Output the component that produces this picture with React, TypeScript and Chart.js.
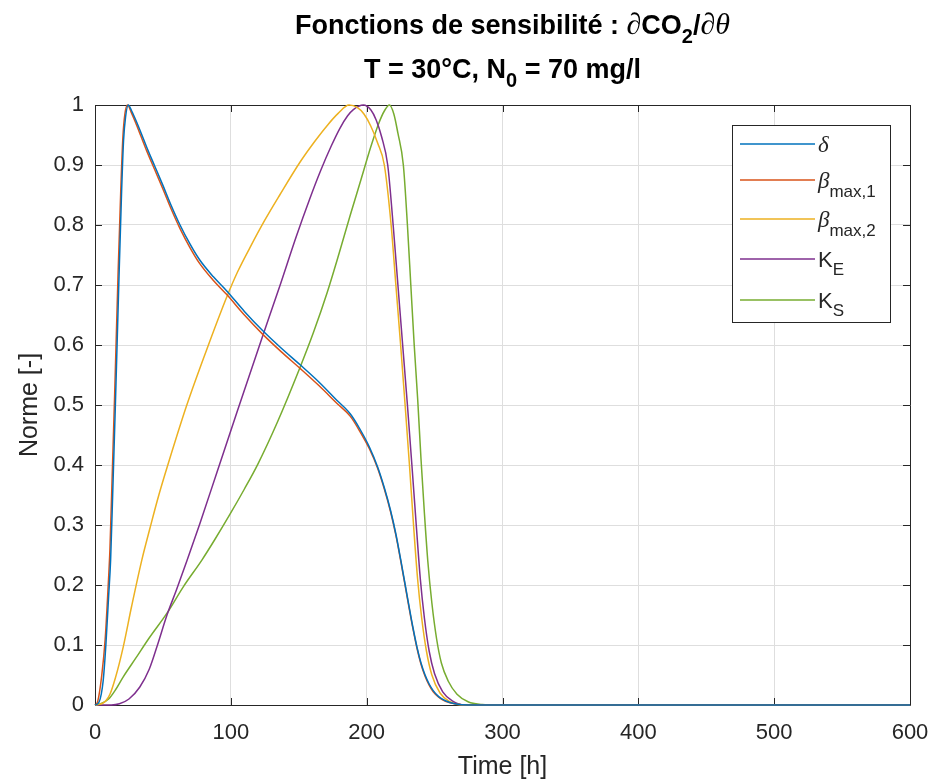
import React, { useEffect, useRef } from "react";
import { Chart, registerables } from "chart.js";

Chart.register(...registerables);

// ---- Data (time [h] / normalized sensitivity) ----
const T_DELTA = [0, 3, 6, 8, 10, 11.5, 13, 15, 17.5, 19.5, 21, 22.5, 24.5, 27, 30, 34, 38, 44, 50, 56, 62.6, 70, 77, 87, 97, 110, 123, 137, 151, 165, 178, 188, 195, 202, 208, 213, 217.5, 221.5, 225, 228, 231, 234, 237, 240, 243, 246, 249, 253, 258, 265, 275, 600];
const V_DELTA = [0, 0.005, 0.04, 0.1, 0.18, 0.242, 0.35, 0.5, 0.7, 0.85, 0.94, 0.98, 1.0, 0.99, 0.975, 0.953, 0.93, 0.898, 0.866, 0.833, 0.8, 0.768, 0.742, 0.714, 0.69, 0.656, 0.625, 0.595, 0.567, 0.538, 0.508, 0.485, 0.46, 0.43, 0.397, 0.362, 0.325, 0.285, 0.243, 0.205, 0.167, 0.13, 0.097, 0.07, 0.05, 0.035, 0.024, 0.014, 0.007, 0.002, 0, 0];

const T_BETA1 = [0, 2, 5, 7.5, 9.5, 11, 12.5, 14.5, 17, 19, 20.5, 22, 24, 27, 30, 34, 38, 44, 50, 56, 62.6, 70, 77, 87, 97, 110, 123, 137, 151, 165, 178, 188, 195, 202, 208, 213, 217.5, 221.5, 225, 228, 231, 234, 237, 240, 243, 246, 249, 253, 258, 265, 275, 600];
const V_BETA1 = [0, 0.006, 0.05, 0.11, 0.19, 0.26, 0.37, 0.52, 0.72, 0.86, 0.945, 0.985, 1.0, 0.986, 0.97, 0.947, 0.924, 0.892, 0.86, 0.827, 0.794, 0.762, 0.736, 0.708, 0.684, 0.65, 0.619, 0.589, 0.561, 0.532, 0.503, 0.481, 0.456, 0.427, 0.395, 0.36, 0.323, 0.283, 0.241, 0.203, 0.165, 0.128, 0.095, 0.068, 0.048, 0.033, 0.022, 0.013, 0.006, 0.002, 0, 0];

const T_BETA2 = [0, 5, 8, 11, 15, 20.8, 27, 34.5, 40.5, 47, 54, 67.6, 83.5, 97, 105, 114, 125, 136, 151, 162, 171, 179, 187, 193, 198, 203, 208, 213, 218, 221.5, 225, 228.3, 231.5, 234.5, 237.5, 240.5, 244, 248, 254, 261, 270, 600];
const V_BETA2 = [0, 0.002, 0.007, 0.018, 0.045, 0.097, 0.165, 0.242, 0.295, 0.35, 0.403, 0.5, 0.6, 0.68, 0.722, 0.762, 0.808, 0.85, 0.905, 0.94, 0.966, 0.986, 1.0, 0.996, 0.985, 0.965, 0.937, 0.9, 0.8, 0.7, 0.6, 0.5, 0.4, 0.3, 0.21, 0.145, 0.09, 0.05, 0.02, 0.006, 0, 0];

const T_KE = [0, 12, 18, 25, 33, 40, 46, 53, 60, 67.6, 77.3, 89.8, 104.5, 123, 136, 148.5, 158, 166, 174, 180.5, 186, 190, 197.6, 203, 207, 211, 215.5, 219.5, 223, 226.5, 230, 233.3, 236.5, 239.5, 242.5, 246, 250, 256, 263, 272, 600];
const V_KE = [0, 0, 0.002, 0.01, 0.03, 0.06, 0.1, 0.15, 0.192, 0.24, 0.303, 0.388, 0.488, 0.612, 0.698, 0.783, 0.843, 0.89, 0.932, 0.962, 0.982, 0.992, 1.0, 0.992, 0.975, 0.947, 0.9, 0.8, 0.7, 0.6, 0.5, 0.4, 0.3, 0.21, 0.145, 0.09, 0.052, 0.022, 0.007, 0, 0];

const T_KS = [0, 5, 10, 15, 20.8, 30, 40, 53, 65, 78.8, 88, 99.4, 110, 120, 134, 151, 161, 171, 180, 188, 196, 203, 209, 213, 216.7, 220, 223, 227, 230, 232.5, 235, 237.6, 240, 242.5, 245, 248, 251.5, 255, 260, 266.5, 275, 285, 295, 600];
const V_KS = [0, 0.003, 0.01, 0.025, 0.047, 0.078, 0.112, 0.153, 0.197, 0.242, 0.275, 0.318, 0.36, 0.402, 0.47, 0.563, 0.622, 0.688, 0.755, 0.817, 0.877, 0.93, 0.97, 0.99, 1.0, 0.985, 0.953, 0.9, 0.8, 0.7, 0.6, 0.508, 0.41, 0.32, 0.24, 0.17, 0.11, 0.07, 0.04, 0.018, 0.005, 0.001, 0, 0];

const X_TICK_LABELS = ["0", "100", "200", "300", "400", "500", "600"];
const Y_TICK_LABELS = ["0", "0.1", "0.2", "0.3", "0.4", "0.5", "0.6", "0.7", "0.8", "0.9", "1"];

const COLORS = ["#0072BD", "#D95319", "#EDB120", "#7E2F8E", "#77AC30"];

const SANS = "'Liberation Sans', Arial, sans-serif";
const SERIF = "'Liberation Serif', 'DejaVu Serif', serif";
const TXT = "#262626";

type Seg = { t: string; f: string; dy?: number };

function drawRich(ctx: CanvasRenderingContext2D, segs: Seg[], x: number, y: number, align: "left" | "center") {
  let w = 0;
  for (const s of segs) {
    ctx.font = s.f;
    w += ctx.measureText(s.t).width;
  }
  let cx = align === "center" ? x - w / 2 : x;
  ctx.textBaseline = "alphabetic";
  ctx.textAlign = "left";
  for (const s of segs) {
    ctx.font = s.f;
    ctx.fillText(s.t, cx, y + (s.dy || 0));
    cx += ctx.measureText(s.t).width;
  }
}

const decorPlugin = {
  id: "decor",
  beforeDatasetsDraw(chart: any) {
    const { ctx, chartArea } = chart;
    const { left, right, top, bottom } = chartArea;
    const xs = chart.scales.x;
    const ys = chart.scales.y;
    ctx.save();
    ctx.strokeStyle = TXT;
    ctx.lineWidth = 1;
    ctx.beginPath();
    ctx.rect(Math.round(left) + 0.5, Math.round(top) + 0.5, Math.round(right - left), Math.round(bottom - top));
    ctx.stroke();
    const tl = 7;
    ctx.beginPath();
    xs.ticks.forEach((t: any) => {
      const px = Math.round(xs.getPixelForValue(t.value)) + 0.5;
      ctx.moveTo(px, bottom);
      ctx.lineTo(px, bottom - tl);
      ctx.moveTo(px, top);
      ctx.lineTo(px, top + tl);
    });
    ys.ticks.forEach((t: any) => {
      const py = Math.round(ys.getPixelForValue(t.value)) + 0.5;
      ctx.moveTo(left, py);
      ctx.lineTo(left + tl, py);
      ctx.moveTo(right, py);
      ctx.lineTo(right - tl, py);
    });
    ctx.stroke();
    ctx.restore();
  },
  afterDraw(chart: any) {
    const { ctx, chartArea } = chart;
    const cxm = (chartArea.left + chartArea.right) / 2;
    const cym = (chartArea.top + chartArea.bottom) / 2;
    ctx.save();
    ctx.fillStyle = "#000";
    const B = `bold 27px ${SANS}`;
    const BS = `bold 20px ${SANS}`;
    const SYM = `30px ${SERIF}`;
    // Title line 1
    drawRich(
      ctx,
      [
        { t: "Fonctions de sensibilité : ", f: B },
        { t: "∂", f: SYM },
        { t: "CO", f: B },
        { t: "2", f: BS, dy: 9 },
        { t: "/", f: B },
        { t: "∂", f: SYM },
        { t: "θ", f: `italic 30px ${SERIF}` },
      ],
      cxm + 10,
      34,
      "center"
    );
    // Title line 2
    drawRich(
      ctx,
      [
        { t: "T = 30°C, N", f: B },
        { t: "0", f: BS, dy: 9 },
        { t: " = 70 mg/l", f: B },
      ],
      cxm,
      78,
      "center"
    );
    // Axis titles
    ctx.fillStyle = TXT;
    ctx.font = `25px ${SANS}`;
    ctx.textAlign = "center";
    ctx.textBaseline = "middle";
    ctx.fillText("Time [h]", cxm, 767);
    ctx.save();
    ctx.translate(30, cym);
    ctx.rotate(-Math.PI / 2);
    ctx.fillText("Norme [-]", 0, 0);
    ctx.restore();

    // Legend
    const lx = 732.5, ly = 125.5, lw = 158, lh = 197;
    ctx.fillStyle = "#fff";
    ctx.fillRect(lx, ly, lw, lh);
    ctx.strokeStyle = TXT;
    ctx.lineWidth = 1;
    ctx.strokeRect(lx, ly, lw, lh);
    const rows = [144, 180, 219, 259, 300];
    const N = `22px ${SANS}`;
    const S = `17px ${SANS}`;
    const GI = `italic 23px ${SERIF}`;
    const labels: Seg[][] = [
      [{ t: "δ", f: GI }],
      [{ t: "β", f: GI }, { t: "max,1", f: S, dy: 9 }],
      [{ t: "β", f: GI }, { t: "max,2", f: S, dy: 9 }],
      [{ t: "K", f: N }, { t: "E", f: S, dy: 8 }],
      [{ t: "K", f: N }, { t: "S", f: S, dy: 8 }],
    ];
    rows.forEach((ry, i) => {
      ctx.strokeStyle = COLORS[i];
      ctx.lineWidth = 1.5;
      ctx.beginPath();
      ctx.moveTo(740, ry);
      ctx.lineTo(815, ry);
      ctx.stroke();
      ctx.fillStyle = TXT;
      drawRich(ctx, labels[i], 818, ry + 8, "left");
    });
    ctx.restore();
  },
};

const SERIES = [
  { t: T_DELTA, v: V_DELTA },
  { t: T_BETA1, v: V_BETA1 },
  { t: T_BETA2, v: V_BETA2 },
  { t: T_KE, v: V_KE },
  { t: T_KS, v: V_KS },
];

export default function App() {
  const ref = useRef<HTMLCanvasElement>(null);
  useEffect(() => {
    if (!ref.current) return;
    const datasets = SERIES.map((s, i) => ({
      data: s.t.map((t, j) => ({ x: t, y: s.v[j] })),
      borderColor: COLORS[i],
      backgroundColor: COLORS[i],
      borderWidth: 1.5,
      pointRadius: 0,
      showLine: true,
      cubicInterpolationMode: "monotone" as const,
      clip: 4,
    }));
    const chart = new Chart(ref.current, {
      type: "scatter",
      data: { datasets },
      plugins: [decorPlugin],
      options: {
        animation: false,
        responsive: false,
        events: [],
        layout: { padding: { top: 105, right: 25, left: 0, bottom: 0 } },
        plugins: { legend: { display: false }, title: { display: false }, tooltip: { enabled: false } },
        scales: {
          x: {
            type: "linear",
            min: 0,
            max: 600,
            ticks: {
              stepSize: 100,
              padding: 15,
              color: TXT,
              font: { family: SANS, size: 22 },
              maxRotation: 0,
              callback: (_v: any, i: number) => X_TICK_LABELS[i],
            },
            grid: { color: "#dedede", drawTicks: false },
            border: { display: false },
            afterFit: (s: any) => {
              s.height = 77;
              s.paddingLeft = 0;
              s.paddingRight = 0;
            },
          },
          y: {
            type: "linear",
            min: 0,
            max: 1,
            ticks: {
              stepSize: 0.1,
              padding: 11,
              color: TXT,
              font: { family: SANS, size: 22 },
              callback: (_v: any, i: number) => Y_TICK_LABELS[i],
            },
            grid: { color: "#dedede", drawTicks: false },
            border: { display: false },
            afterFit: (s: any) => {
              s.width = 95;
              s.paddingTop = 0;
              s.paddingBottom = 0;
            },
          },
        },
      },
    });
    return () => chart.destroy();
  }, []);
  return (
    <div style={{ position: "fixed", left: 0, top: 0, width: 935, height: 782, background: "#fff" }}>
      <canvas ref={ref} width={935} height={782} style={{ width: 935, height: 782, display: "block" }} />
    </div>
  );
}
